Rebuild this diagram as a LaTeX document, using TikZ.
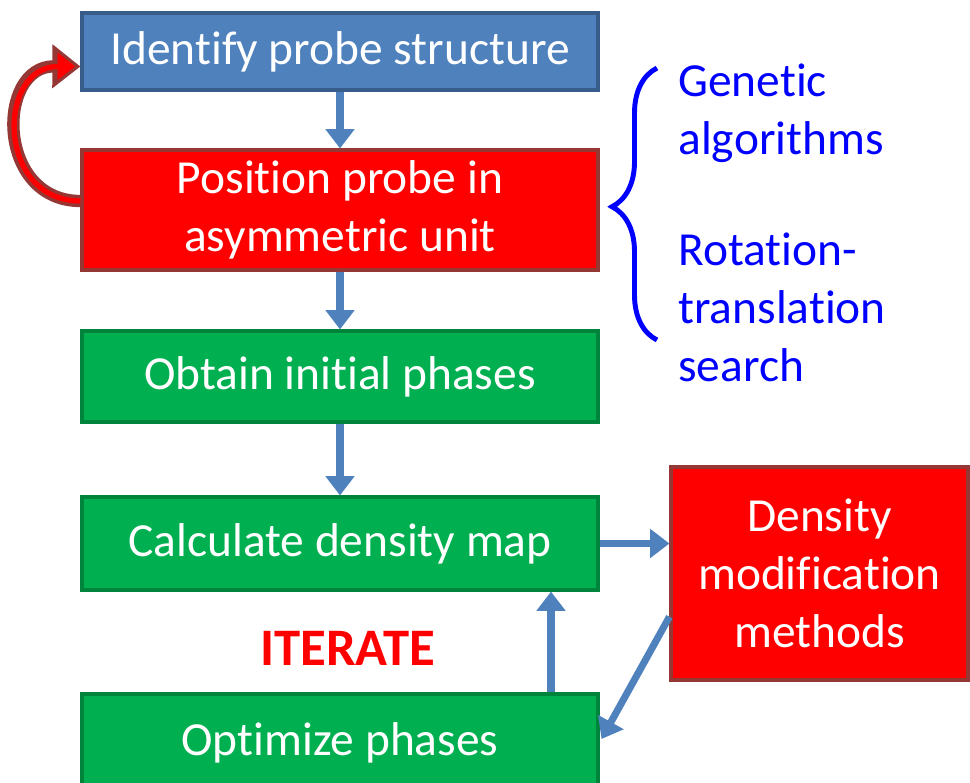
\documentclass[tikz,border=0pt]{standalone}
\usepackage{fontspec}
\setmainfont{Carlito}[Ligatures=NoCommon]
\usetikzlibrary{positioning,arrows.meta,decorations.pathreplacing,calc}

\definecolor{boxblue}{HTML}{4F81BD}
\definecolor{boxblueline}{HTML}{385D8A}
\definecolor{boxred}{HTML}{FF0000}
\definecolor{boxredline}{HTML}{953735}
\definecolor{boxgreen}{HTML}{00B050}
\definecolor{boxgreenline}{HTML}{00843C}
\definecolor{flowblue}{HTML}{4F81BD}
\definecolor{sideblue}{HTML}{0000FF}

\tikzset{
  box/.style={draw, line width=1.8pt, text=white, minimum width=10.32cm,
    align=center, inner sep=0pt, font=\fontsize{27}{33}\selectfont},
  redbox/.style={box, fill=boxred, draw=boxredline},
  greenbox/.style={box, fill=boxgreen, draw=boxgreenline},
  flow/.style={draw=flowblue, line width=4pt, -{Triangle[length=11pt,width=16pt]}},
  sidetext/.style={text=sideblue, align=left, anchor=west, inner sep=0pt,
    font=\fontsize{27}{33}\selectfont}
}

\begin{document}
\begin{tikzpicture}[x=0.02cm,y=-0.02cm]
\useasboundingbox (0,0) rectangle (970,782);

% flow boxes
\node[box, fill=boxblue, draw=boxblueline, minimum height=1.54cm] (ident) at (340,51.5) {Identify probe structure};
\node[redbox, minimum height=2.4cm] (pos) at (340,210) {Position probe in\\asymmetric unit};
\node[greenbox, minimum height=1.82cm] (obtain) at (340,376.5) {Obtain initial phases};
\node[greenbox, minimum height=1.86cm] (calc) at (340,543.5) {Calculate density map};
\node[greenbox, minimum height=1.96cm] (opt) at (340,743) {Optimize phases};
\node[redbox, minimum width=5.94cm, minimum height=4.26cm] (dens) at (819.5,573.5) {Density\\modification\\methods};

\node[text=red, font=\fontsize{30}{36}\selectfont\bfseries] (iter) at (348,648) {ITERATE};

% arrows
\draw[flow] (ident) -- (pos);
\draw[flow] (pos) -- (obtain);
\draw[flow] (obtain) -- (calc);
\draw[flow] (calc.east) -- (dens.west |- calc.east);
\coordinate (up) at (551,0);
\draw[flow] (opt.north -| up) -- (calc.south -| up);
\draw[flow] ($(dens.south west)!0.3!(dens.north west)$) -- ($(opt.east)+(2,-4)$);

% loop back
\draw[line width=7pt, draw=boxredline, -{Triangle[length=16pt,width=24pt]}]
  ($(pos.west)+(0,-9)$) .. controls (-4,201) and (-4,66) .. ($(ident.west)+(0,15)$);
\draw[line width=3pt, draw=boxred, -{Triangle[length=10pt,width=15pt]}, shorten >=3pt]
  ($(pos.west)+(0,-9)$) .. controls (-4,201) and (-4,66) .. ($(ident.west)+(0,15)$);

% search methods
\draw[sideblue, line width=2.8pt, decorate, decoration={brace, amplitude=0.9cm, aspect=0.49}]
  (657,340) -- (657,68);
\node[sidetext] (gen) at (678,113) {Genetic\\algorithms};
\node[sidetext] (rot) at (678,307) {Rotation-\\translation\\search};

\end{tikzpicture}
\end{document}
